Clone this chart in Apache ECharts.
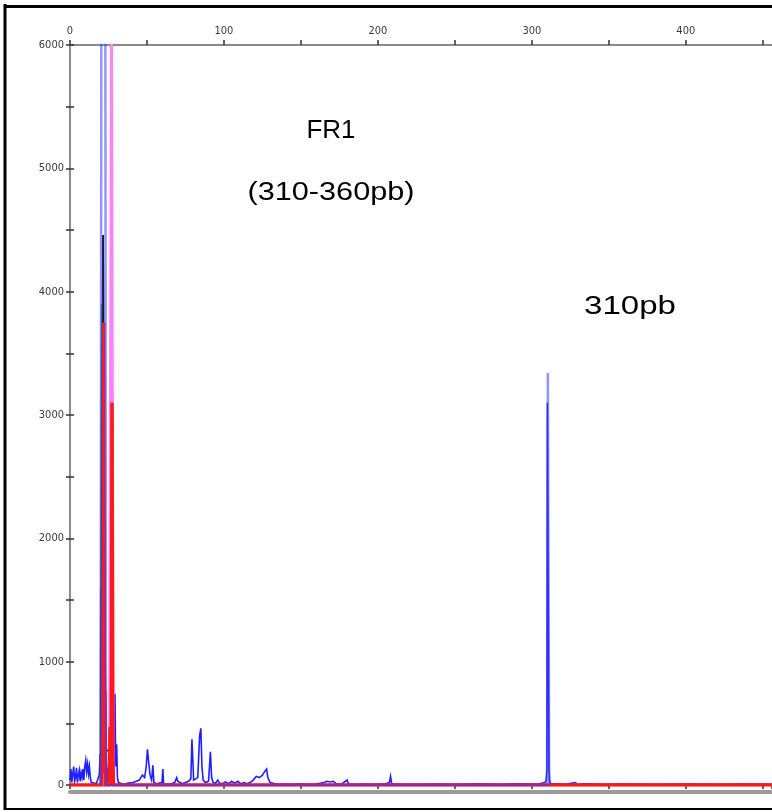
<!DOCTYPE html>
<html>
<head>
<meta charset="utf-8">
<title>FR1 (310-360pb)</title>
<script src="https://cdn.jsdelivr.net/npm/echarts@6.0.0/dist/echarts.min.js"></script>
<style>
  html, body { margin: 0; padding: 0; background: #fff; }
  #chart { width: 772px; height: 812px; }
</style>
</head>
<body>
<div id="chart"></div>
<script>
// Fragment size (bp) axis and fluorescence axis
const sizeMin = 0;
const sizeMax = 456;
const rfuMax = 6000;

// Blue channel trace: sizes (bp) and intensities (RFU)
const blueX = [0, 0.6, 1.2, 1.8, 2.4, 3, 3.6, 4.2, 4.8, 5.4, 6, 6.6, 7.2, 7.8, 8.4, 9, 9.6, 10.2, 10.8, 11.4, 12, 12.6, 13.2, 13.8, 14.4, 15, 15.6, 16.4, 17, 17.6, 18.4, 19, 19.6, 20.0, 20.3, 20.7,
  21.0, 21.5, 22.2, 22.8, 23.2, 23.8, 24.4, 25, 25.6, 26.2, 26.6, 27.2, 27.8, 28.4, 29.2, 29.7, 30.3, 30.8, 31.5, 32.5,
  35, 38, 41, 43, 45, 47, 48.5, 49.5, 50.3, 51, 52, 53, 53.8, 54.5, 56, 58, 59.8, 60.3, 60.8, 63, 66, 68, 69.3, 70, 71, 73, 75, 77, 78.5, 79.2, 79.8, 80.3, 81.5, 83, 84.2, 85, 85.7, 86.5, 88, 90, 91.2, 92, 93, 94.5, 96, 97, 99,
  101, 103, 105, 107, 109, 111, 113, 115, 117, 119, 121, 123, 125, 126.5, 127.7, 128.5, 130, 133, 136, 140, 145, 150, 155, 160, 165, 167, 169, 171, 173, 176, 180, 181, 185, 190, 195, 200, 205, 207.5, 208.2, 209, 215, 225, 240, 250, 265, 280, 290, 300, 305, 308.5, 309.3, 309.8,
  310.1, 310.4, 310.8, 311.1, 311.5, 312.2, 316, 322, 328, 329, 330, 335, 335.5, 336, 345, 360, 380, 400, 420, 440, 456];
const blueY = [40, 130, 20, 90, 150, 30, 60, 140, 20, 80, 120, 30, 100, 60, 130, 40, 150, 200, 110, 170, 90, 150, 60, 20, 10, 30, 15, 20, 10, 30, 20, 80, 250, 150, 1580, 400,
  900, 4460, 4460, 1200, 300, 150, 60, 120, 50, 450, 120, 60, 200, 100, 740, 150, 330, 60, 20, 10,
  5, 15, 20, 30, 40, 80, 60, 150, 290, 200, 80, 40, 160, 20, 10, 15, 20, 130, 10, 5, 10, 20, 60, 30, 20, 10, 20, 30, 50, 370, 200, 40, 30, 60, 400, 460, 150, 40, 20, 30, 270, 60, 20, 15, 40, 15, 10,
  25, 10, 30, 15, 30, 10, 20, 10, 20, 40, 70, 60, 80, 110, 130, 60, 20, 10, 5, 8, 5, 10, 5, 8, 20, 30, 25, 30, 10, 5, 40, 5, 5, 8, 5, 5, 10, 20, 70, 10, 5, 5, 8, 5, 10, 5, 10, 8, 10, 20, 40, 130,
  3100, 3100, 3100, 130, 40, 10, 10, 5, 20, 30, 5, 10, 25, 5, 5, 8, 5, 8, 5, 8, 5];

// Second blue run: the tall, saturated peaks
const blue2X = [19.9, 20.4, 22.9, 23.4, 309.9, 310.4, 310.9, 311.3];
const blue2Y = [0, 7000, 7000, 0, 0, 3340, 3340, 0];

// Green channel
const greenX = [19.5, 20.1, 20.5, 21.0, 22];
const greenY = [0, 0, 3900, 0, 0];

// Black channel (size standard overlap)
const blackX = [19, 20.4, 20.9, 21.5, 21.9, 22.3, 22.6, 26.4, 26.8, 28];
const blackY = [0, 0, 2450, 4460, 690, 280, 280, 280, 0, 0];

// Magenta channel
const pinkX = [25.5, 26.6, 27.0, 27.8, 28.2, 30];
const pinkY = [0, 0, 7000, 7000, 0, 0];

// Red channel
const redX = [0, 20.6, 21.2, 21.9, 22.3, 22.7, 23.1, 25.6, 26.0, 26.4, 26.8, 27.3, 27.8, 28.3, 456];
const redY = [0, 0, 700, 3750, 100, 760, 0, 0, 470, 0, 200, 3100, 200, 0, 0];

const xTickStep = 50;
const yTickStep = 500;

function pairs(xs, ys) {
  return xs.map((x, i) => [x, ys[i]]);
}

const labelFont = {
  color: '#3a3a3a',
  fontSize: 11,
  fontFamily: '"Liberation Sans Narrow", "DejaVu Sans Condensed", "Liberation Sans", sans-serif'
};

function traceSeries(name, xs, ys, color, width) {
  return {
    name: name,
    type: 'line',
    xAxisIndex: 0,
    yAxisIndex: 0,
    data: pairs(xs, ys),
    showSymbol: false,
    symbol: 'none',
    clip: true,
    lineStyle: { color: color, width: width, join: 'miter' },
    emphasis: { disabled: true }
  };
}

const textFont = '"Liberation Sans", Arial, sans-serif';

const chart = echarts.init(document.getElementById('chart'), null, { renderer: 'canvas' });

chart.setOption({
  animation: false,
  backgroundColor: '#ffffff',
  grid: { left: 70, top: 45, width: 702, height: 740, containLabel: false },
  xAxis: [
    {
      type: 'value', position: 'top', min: sizeMin, max: sizeMax, interval: xTickStep,
      axisLine: { show: true, onZero: false, lineStyle: { color: '#8a8a8a', width: 2 } },
      axisTick: { show: true, length: 5, lineStyle: { color: '#333', width: 1.5 } },
      axisLabel: Object.assign({
        margin: 8, showMaxLabel: false,
        formatter: v => (v % 100 === 0 ? String(v) : '')
      }, labelFont),
      splitLine: { show: false }
    },
    {
      type: 'value', position: 'top', min: sizeMin, max: sizeMax, interval: xTickStep,
      axisLine: { show: false },
      axisTick: { show: true, inside: true, length: 4, lineStyle: { color: '#333', width: 1.5 } },
      axisLabel: { show: false },
      splitLine: { show: false }
    },
    {
      type: 'value', position: 'bottom', offset: 7, min: sizeMin, max: sizeMax,
      axisLine: { show: true, onZero: false, lineStyle: { color: '#9a9a9a', width: 4 } },
      axisTick: { show: false },
      axisLabel: { show: false },
      splitLine: { show: false }
    }
  ],
  yAxis: [
    {
      type: 'value', position: 'left', min: 0, max: rfuMax, interval: yTickStep,
      axisLine: { show: true, onZero: false, lineStyle: { color: '#8a8a8a', width: 2 } },
      axisTick: { show: true, length: 4, lineStyle: { color: '#333', width: 1.5 } },
      axisLabel: Object.assign({
        margin: 6,
        formatter: v => (v % 1000 === 0 ? String(v) : '')
      }, labelFont),
      splitLine: { show: false }
    },
    {
      type: 'value', position: 'left', min: 0, max: rfuMax, interval: yTickStep,
      axisLine: { show: false },
      axisTick: { show: true, inside: true, length: 4, lineStyle: { color: '#333', width: 1.5 } },
      axisLabel: { show: false },
      splitLine: { show: false }
    }
  ],
  series: [
    traceSeries('green', greenX, greenY, '#2cc02c', 1.5),
    traceSeries('blue', blueX, blueY, '#1f1fff', 1.6),
    traceSeries('black', blackX, blackY, '#1a1a2a', 2),
    traceSeries('magenta', pinkX, pinkY, '#ff80ff', 2.5),
    traceSeries('red', redX, redY, '#ff1a1a', 3.5),
    traceSeries('blue2', blue2X, blue2Y, 'rgba(60,60,255,0.55)', 2.5)
  ],
  graphic: [
    // frame around the plot
    { type: 'line', shape: { x1: 5, y1: 4, x2: 5, y2: 810 }, style: { stroke: '#000', lineWidth: 3 } },
    { type: 'line', shape: { x1: 4, y1: 6.5, x2: 772, y2: 6.5 }, style: { stroke: '#000', lineWidth: 3 } },
    { type: 'line', shape: { x1: 4, y1: 809, x2: 772, y2: 809 }, style: { stroke: '#000', lineWidth: 2 } },
    // annotations
    { type: 'text', x: 331, y: 131, style: { text: 'FR1', fill: '#000', font: '26px ' + textFont, align: 'center', verticalAlign: 'middle' } },
    { type: 'text', x: 331, y: 193, scaleX: 1.18, style: { text: '(310-360pb)', fill: '#000', font: '26px ' + textFont, align: 'center', verticalAlign: 'middle' } },
    { type: 'text', x: 630, y: 307, scaleX: 1.32, style: { text: '310pb', fill: '#000', font: '25px ' + textFont, align: 'center', verticalAlign: 'middle' } }
  ]
});
</script>
</body>
</html>
